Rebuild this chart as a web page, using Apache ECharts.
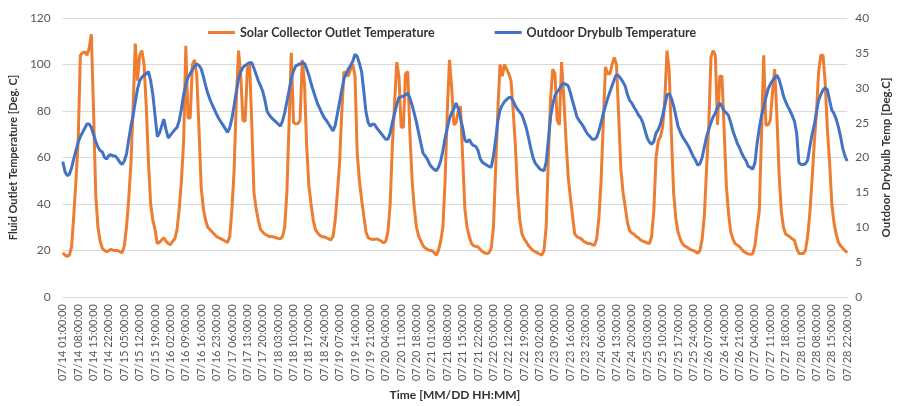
<!DOCTYPE html>
<html>
<head>
<meta charset="utf-8">
<script src="https://cdn.jsdelivr.net/npm/echarts@6/dist/echarts.min.js"></script>
<style>
  html, body { margin: 0; padding: 0; background: #fff; }
  #echarts { width: 900px; height: 406px; }
</style>
</head>
<body>
<div id="echarts"></div>
<script>
// hourly values, 07/14 01:00 .. 07/28 22:00 (one line per day)
var collectorTemp = [
  19, 18, 17.5, 18, 21.5, 35, 50, 67, 104, 105, 105.5, 104, 107, 113, 80, 44, 30, 24, 21, 20, 19.5, 20, 20.5, 20,
  20, 20, 19.5, 19, 22, 30, 42, 57, 81, 109, 93, 104, 106, 100, 82, 58, 40, 33, 29, 23, 23.5, 24.5, 25.5, 24,
  23, 22.5, 24, 25, 29, 38, 50, 67, 108, 77, 77, 100, 102, 95, 72, 47, 38, 33, 30, 29, 28, 27, 26, 25.5,
  25, 24.5, 24, 23.5, 26, 38, 55, 85, 106, 95, 76, 75.5, 98, 101, 75, 45, 38, 33, 29, 28, 27, 26.5, 26, 26,
  25.8, 25.5, 25.2, 25, 26, 30, 45, 75, 105, 75, 74.5, 74.5, 76, 102, 92, 65, 48, 40, 33, 29, 27.5, 26.5, 26, 25.8,
  25.5, 25, 24.5, 26, 33, 45, 58, 80, 97, 96, 95, 98, 100, 95, 62, 50, 42, 35, 28, 25.5, 25, 24.7, 24.8, 25,
  24.5, 24, 23.3, 24, 28, 40, 65, 83, 101, 95, 73, 73, 96, 97, 70, 50, 38, 30, 26, 24, 22, 21, 20.5, 20,
  20, 19, 18, 20, 24, 30, 50, 80, 102, 90, 74, 75, 80, 82, 60, 38, 30, 26, 23, 22, 21.8, 21.5, 20.5, 19.5,
  19, 18.7, 19, 21, 30, 55, 80, 100, 95, 100, 98, 96, 93, 80, 65, 45, 33, 27, 25, 23.7, 22, 21, 20, 19.5,
  19, 18.5, 18, 20, 30, 60, 85, 98, 96, 76, 74, 101, 86, 68, 52, 43, 35, 27, 26, 25.5, 25, 24, 23.5, 23,
  23, 22.5, 22.3, 25, 34, 50, 75, 99, 96, 96, 100, 103, 100, 78, 55, 45, 38.6, 32, 28.5, 27.5, 27, 26, 25.5, 24.5,
  24, 23.7, 23.2, 23, 26, 37, 60, 67, 69, 73, 85, 106, 97, 70, 45, 34, 28, 25, 23, 22, 21.5, 20.8, 20.3, 20,
  19.5, 18.8, 20, 25, 35, 55, 74, 103, 106, 104, 74, 95, 95, 72, 48, 36, 28, 25, 23, 22.3, 21.6, 20.5, 19.5, 19,
  18.5, 18.4, 18.6, 22, 30, 37, 70, 104, 74, 74, 76, 88, 98, 78, 53, 37, 30, 27, 26.5, 25.8, 25, 24.4, 21, 18.7,
  18.7, 18.7, 20, 26, 36, 50, 66, 79, 97, 104, 104, 92, 72, 58, 40, 32, 27, 23.5, 22, 21, 20, 19
];
var drybulbTemp = [
  19.4, 18, 17.4, 17.6, 18.5, 19.8, 21, 22.2, 23, 23.6, 24.2, 24.8, 24.8, 24.3, 23.3, 22.3, 21.5, 21, 20.8, 20, 19.8, 20.3, 20.4, 20.2,
  20.2, 19.8, 19.3, 19, 19.5, 20.5, 22.5, 24.5, 26, 28, 29.8, 31, 31.5, 31.8, 32, 32.3, 31, 29, 26, 23, 23.5, 24.5, 25.5, 24,
  22.8, 23.2, 23.6, 24, 24.3, 25.3, 27, 29, 30.5, 31.5, 32, 32.6, 33.1, 33.4, 33.2, 32.7, 31.6, 30.3, 29.2, 28.3, 27.6, 26.9, 26.2, 25.6,
  25.1, 24.6, 24.1, 23.6, 24.3, 25.6, 27.5, 29.5, 31.3, 32.3, 32.9, 33.2, 33.4, 33.6, 33.6, 32.8, 31.9, 31, 30.3, 29.5, 28.2, 26.6, 26.1, 25.7,
  25.4, 25.1, 24.8, 24.5, 25.2, 26.4, 28, 29.6, 31.3, 32.4, 33.1, 33.3, 33.4, 33.6, 33.5, 32.7, 31.8, 30.6, 29.6, 28.6, 27.7, 27, 26.3, 25.7,
  25.3, 24.8, 24.3, 23.8, 24.6, 26.3, 28, 29.7, 31.3, 32, 32.7, 33.2, 33.8, 34.8, 34.5, 33.5, 32.3, 29.5, 26.5, 25, 24.5, 24.8, 24.7, 24.2,
  23.8, 23.4, 23, 22.6, 22.6, 23.5, 25, 26.3, 27.6, 28.6, 28.7, 28.8, 29, 29.2, 28.5, 27.5, 26.3, 25, 23.5, 22, 20.6, 20.2, 19.7, 19,
  18.6, 18.3, 18.1, 18.6, 19.5, 21, 22.8, 24.2, 25.6, 26.4, 27, 27.8, 27, 25.6, 24.3, 22.5, 22.2, 22.6, 22, 21.7, 21.6, 21, 19.8, 19.3,
  19.1, 18.9, 18.7, 18.6, 20.2, 22.5, 25.2, 26.8, 27.5, 28, 28.3, 28.6, 28.6, 28.1, 27.4, 26.9, 26.5, 26.1, 25.2, 24.2, 22.8, 21.3, 20, 19.2,
  18.8, 18.4, 18.2, 18.1, 19.3, 22.5, 25.8, 27.6, 28.9, 29.4, 29.8, 30.4, 30.6, 30.5, 30.3, 29.3, 28.1, 27, 25.8, 25.3, 24.9, 24.4, 23.8, 23.3,
  23, 22.6, 22.6, 22.9, 23.8, 25, 26.3, 27.4, 28.5, 29.4, 30.3, 31.2, 31.9, 31.7, 31.3, 30.8, 30.2, 29, 28.2, 27.8, 27.2, 26.7, 26.1, 25.7,
  25, 23.9, 22.8, 22.2, 21.9, 22.3, 23.5, 24, 24.8, 26, 27.4, 29, 29.1, 28.5, 27.4, 26, 24.5, 23.7, 23, 22.5, 22, 21.5, 20.8, 20.1,
  19.6, 18.9, 19.1, 20, 21.5, 23, 24, 25, 25.8, 26.4, 27.2, 27.8, 27.3, 26.7, 26.4, 26, 25, 23.8, 22.9, 22, 21.4, 20.6, 20, 19.5,
  18.7, 18.6, 18.3, 19.2, 22, 24.2, 26, 27.2, 28.6, 29.8, 30.5, 31, 31.4, 31.8, 31.2, 30.1, 28.8, 28, 27.3, 26.7, 26, 25.2, 23.5, 19.3,
  19, 19, 19.1, 19.6, 21.5, 23.3, 24.6, 26.5, 28.2, 29, 29.7, 30, 29.7, 28.2, 26.8, 26.3, 25.5, 24.4, 23, 21.3, 20.2, 19.5
];
var seriesNames = ['Solar Collector Outlet Temperature', 'Outdoor Drybulb Temperature'];
var firstDay = 14, lastDay = 28, lastHour = 22;   // hours run 1..24 (EnergyPlus style)

var timeLabels = [];
for (var d = firstDay; d <= lastDay; d++) {
  for (var h = 1; h <= 24; h++) {
    if (d == lastDay && h > lastHour) break;
    timeLabels.push('07/' + d + ' ' + (h < 10 ? '0' + h : h) + ':00:00');
  }
}

var myChart = echarts.init(document.getElementById('echarts'));
var font = 'Lato, "Liberation Sans", sans-serif';
var grey = '#595959';
var gridLine = { show: true, lineStyle: { color: '#d9d9d9', width: 1 } };

var option = {
  animation: false,
  textStyle: { fontFamily: font },
  color: ['#ED7D31', '#4472C4'],
  legend: {
    left: 203,
    top: 21,
    itemWidth: 27,
    itemHeight: 3,
    itemGap: 60,
    icon: 'rect',
    textStyle: { fontFamily: font, fontSize: 12.5, fontWeight: 'bold', color: '#333' },
    data: seriesNames
  },
  grid: { left: 57, right: 40, top: 18, bottom: 106 },
  xAxis: {
    type: 'category',
    boundaryGap: false,
    data: timeLabels,
    axisLine: { lineStyle: { color: '#d9d9d9' } },
    axisTick: { show: false },
    axisLabel: { interval: 6, rotate: 90, fontSize: 11, color: grey, margin: 7, fontFamily: font },
    name: 'Time [MM/DD HH:MM]',
    nameLocation: 'middle',
    nameGap: 90,
    nameTextStyle: { fontSize: 12, fontWeight: 'bold', color: '#333', fontFamily: font }
  },
  yAxis: [{
    type: 'value',
    min: 0, max: 120, interval: 20,
    axisLine: { show: false },
    axisTick: { show: false },
    splitLine: gridLine,
    axisLabel: { fontSize: 12, color: grey, margin: 12, fontFamily: font },
    name: 'Fluid Outlet Temperature [Deg. C]',
    nameLocation: 'middle',
    nameGap: 34,
    nameTextStyle: { fontSize: 11, fontWeight: 'bold', color: '#333', fontFamily: font }
  }, {
    type: 'value',
    position: 'right',
    min: 0, max: 40, interval: 5,
    axisLine: { show: false },
    axisTick: { show: false },
    splitLine: { show: false },
    axisLabel: { fontSize: 12, color: grey, margin: 8, fontFamily: font },
    name: 'Outdoor Drybulb Temp [Deg.C]',
    nameLocation: 'middle',
    nameRotate: 90,
    nameGap: 20,
    nameTextStyle: { fontSize: 11.5, fontWeight: 'bold', color: '#333', fontFamily: font }
  }],
  series: [{
    name: seriesNames[0],
    type: 'line',
    yAxisIndex: 0,
    showSymbol: false,
    lineStyle: { width: 3, color: '#ED7D31' },
    data: collectorTemp
  }, {
    name: seriesNames[1],
    type: 'line',
    yAxisIndex: 1,
    showSymbol: false,
    lineStyle: { width: 3, color: '#4472C4' },
    data: drybulbTemp
  }]
};
myChart.setOption(option);
</script>
</body>
</html>
